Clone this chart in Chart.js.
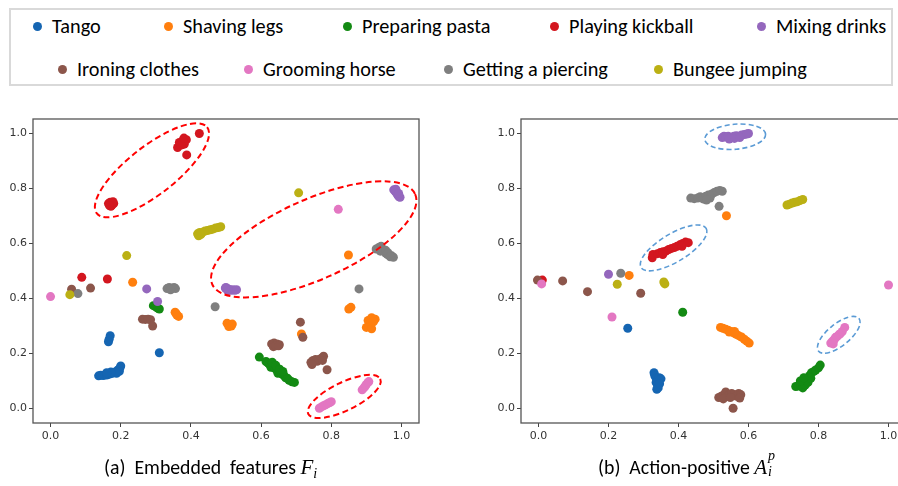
<!DOCTYPE html>
<html>
<head>
<meta charset="utf-8">
<script src="https://cdn.jsdelivr.net/npm/chart.js@4.4.1/dist/chart.umd.min.js"></script>
<style>
  html, body { margin: 0; padding: 0; background: #fff; }
  #page { position: relative; width: 898px; height: 486px; overflow: hidden; background: #fff; }
  #legend { position: absolute; left: 9px; top: 8px; width: 884px; height: 78px; border: 2px solid #d9d9d9; box-sizing: border-box; }
  .lab { position: absolute; font-family: Carlito, Lato, "Liberation Sans", sans-serif; font-size: 20.3px; color: #000; white-space: nowrap; line-height: 20px; }
  .dot { position: absolute; width: 9px; height: 9px; border-radius: 50%; }
  canvas { position: absolute; }
  .cap { position: absolute; top: 454px; font-family: Carlito, Lato, "Liberation Sans", sans-serif; font-size: 19.8px; color: #000; white-space: nowrap; line-height: 26px; }
  .m { font-family: "Liberation Serif", "DejaVu Serif", serif; font-style: italic; font-size: 21px; }
  .m sub { font-size: 14px; vertical-align: -4px; }
  .stk { display: inline-block; position: relative; width: 10px; height: 20px; vertical-align: -3px; }
  .stk span { position: absolute; left: 1px; font-family: "Liberation Serif", "DejaVu Serif", serif; font-style: italic; font-size: 14px; line-height: 14px; }
</style>
</head>
<body>
<div id="page">
  <div id="legend"></div>
  <canvas id="left" width="445" height="370" style="left:0px;top:100px;width:445px;height:370px"></canvas>
  <canvas id="right" width="470" height="370" style="left:450px;top:100px;width:470px;height:370px"></canvas>
  <div class="cap" style="left:104px">(a)&nbsp; Embedded&nbsp; features <span class="m">F<sub>i</sub></span></div>
  <div class="cap" style="left:598px">(b)&nbsp; Action-positive <span class="m">A</span><span class="stk"><span style="top:-8px">p</span><span style="top:8px">i</span></span></div>
</div>
<script>
// Action classes and their marker colours
const categories = ['Tango', 'Shaving legs', 'Preparing pasta', 'Playing kickball', 'Mixing drinks',
                    'Ironing clothes', 'Grooming horse', 'Getting a piercing', 'Bungee jumping'];
const palette = ['#1565b2', '#ff7f0e', '#138a13', '#d3161f', '#9467bd', '#8c564b', '#e377c2', '#7f7f7f', '#bbb014'];
const tickValues = [0.0, 0.2, 0.4, 0.6, 0.8, 1.0];

// ---- (a) embedded features ----
const embTango = [[0.137,0.119],[0.143,0.121],[0.15,0.12],[0.155,0.123],[0.16,0.122],[0.165,0.125],[0.17,0.126],
  [0.175,0.128],[0.18,0.13],[0.185,0.133],[0.19,0.138],[0.195,0.142],[0.198,0.148],[0.2,0.155],[0.196,0.135],
  [0.188,0.128],[0.172,0.133],[0.16,0.13],[0.17,0.265],[0.167,0.252],[0.165,0.243],[0.31,0.203]];
const embShaving = [[0.234,0.459],[0.849,0.558],[0.355,0.35],[0.36,0.34],[0.365,0.335],[0.358,0.345],
  [0.503,0.31],[0.51,0.305],[0.515,0.3],[0.508,0.298],[0.518,0.307],[0.85,0.362],[0.856,0.368],
  [0.905,0.32],[0.915,0.33],[0.925,0.325],[0.91,0.31],[0.9,0.295],[0.915,0.29],[0.92,0.315],[0.715,0.271]];
const embPasta = [[0.293,0.374],[0.3,0.37],[0.305,0.365],[0.31,0.362],[0.595,0.187],
  [0.614,0.171],[0.62,0.165],[0.625,0.16],[0.63,0.158],[0.628,0.15],[0.635,0.15],[0.64,0.145],[0.645,0.14],
  [0.65,0.135],[0.648,0.128],[0.655,0.13],[0.66,0.125],[0.665,0.12],[0.67,0.112],[0.675,0.11],[0.68,0.103],
  [0.688,0.097],[0.695,0.095],[0.632,0.168],[0.642,0.157],[0.653,0.143],[0.662,0.135]];
const embKickball = [[0.165,0.745],[0.17,0.75],[0.175,0.74],[0.18,0.745],[0.172,0.735],[0.178,0.752],[0.168,0.738],
  [0.362,0.949],[0.367,0.967],[0.376,0.973],[0.381,0.961],[0.387,0.977],[0.372,0.958],[0.38,0.983],
  [0.388,0.922],[0.424,1.0],[0.089,0.477],[0.162,0.471]];
const embDrinks = [[0.978,0.795],[0.982,0.79],[0.985,0.785],[0.988,0.78],[0.99,0.775],[0.993,0.77],[0.996,0.768],
  [0.984,0.797],[0.992,0.782],[0.5,0.44],[0.505,0.435],[0.51,0.433],[0.515,0.43],[0.52,0.432],[0.525,0.43],
  [0.53,0.432],[0.505,0.428],[0.498,0.438],[0.274,0.435],[0.305,0.389]];
const embIroning = [[0.06,0.434],[0.114,0.438],[0.262,0.325],[0.27,0.324],[0.278,0.325],[0.285,0.323],[0.291,0.3],
  [0.63,0.235],[0.637,0.238],[0.645,0.235],[0.652,0.232],[0.635,0.225],[0.642,0.228],[0.65,0.228],
  [0.712,0.314],[0.719,0.259],[0.742,0.168],[0.748,0.175],[0.755,0.178],[0.76,0.172],[0.765,0.178],
  [0.772,0.183],[0.778,0.19],[0.775,0.175],[0.745,0.16],[0.788,0.141]];
const embGrooming = [[0.0,0.407],[0.82,0.724],[0.766,0.001],[0.772,0.006],[0.778,0.01],[0.784,0.014],[0.79,0.018],
  [0.796,0.022],[0.8,0.025],[0.888,0.068],[0.893,0.075],[0.897,0.082],[0.9,0.088],[0.905,0.095],[0.907,0.098]];
const embPiercing = [[0.078,0.418],[0.469,0.37],[0.879,0.435],[0.332,0.436],[0.338,0.44],[0.345,0.437],
  [0.352,0.44],[0.356,0.436],[0.342,0.432],[0.928,0.58],[0.935,0.585],[0.942,0.59],[0.945,0.578],[0.95,0.572],
  [0.955,0.565],[0.96,0.56],[0.965,0.558],[0.972,0.555],[0.977,0.55],[0.94,0.572],[0.955,0.575],[0.962,0.566],[0.968,0.552]];
const embBungee = [[0.055,0.414],[0.217,0.556],[0.707,0.784],[0.419,0.635],[0.425,0.64],[0.43,0.638],[0.435,0.642],
  [0.44,0.645],[0.447,0.647],[0.455,0.65],[0.462,0.652],[0.47,0.656],[0.478,0.658],[0.485,0.661],[0.422,0.628],[0.428,0.632]];

// ---- (b) action-positive ----
const posTango = [[0.33,0.13],[0.332,0.12],[0.336,0.11],[0.34,0.1],[0.345,0.112],[0.35,0.108],[0.336,0.095],
  [0.34,0.085],[0.342,0.075],[0.338,0.07],[0.346,0.09],[0.255,0.292]];
const posShaving = [[0.52,0.295],[0.527,0.292],[0.535,0.288],[0.542,0.285],[0.55,0.28],[0.557,0.275],[0.565,0.27],
  [0.572,0.265],[0.58,0.26],[0.588,0.252],[0.595,0.245],[0.602,0.238],[0.545,0.278],[0.56,0.28],
  [0.259,0.484],[0.537,0.701]];
const posPasta = [[0.412,0.35],[0.735,0.08],[0.742,0.082],[0.75,0.085],[0.755,0.095],[0.76,0.1],[0.765,0.108],
  [0.77,0.112],[0.775,0.12],[0.78,0.13],[0.787,0.135],[0.792,0.14],[0.8,0.148],[0.805,0.158],[0.755,0.075],
  [0.762,0.085],[0.77,0.095],[0.778,0.11],[0.748,0.1],[0.758,0.112]];
const posKickball = [[0.011,0.467],[0.325,0.548],[0.327,0.56],[0.34,0.563],[0.348,0.567],[0.356,0.57],[0.364,0.572],
  [0.372,0.578],[0.38,0.582],[0.388,0.585],[0.396,0.59],[0.404,0.595],[0.412,0.6],[0.42,0.605],[0.428,0.603],
  [0.41,0.59],[0.355,0.56]];
const posDrinks = [[0.2,0.488],[0.525,0.985],[0.53,0.99],[0.535,0.987],[0.542,0.99],[0.55,0.985],[0.558,0.99],
  [0.565,0.992],[0.572,0.99],[0.58,0.994],[0.588,0.996],[0.595,0.998],[0.6,1.0],[0.545,0.98],[0.56,0.982],[0.575,0.985]];
const posIroning = [[-0.003,0.467],[0.069,0.464],[0.14,0.425],[0.292,0.419],[0.515,0.04],[0.522,0.045],[0.53,0.05],
  [0.535,0.06],[0.54,0.045],[0.545,0.05],[0.552,0.055],[0.56,0.05],[0.565,0.045],[0.572,0.055],[0.578,0.05],
  [0.575,0.038],[0.528,0.035],[0.548,0.04],[0.556,0.001]];
const posGrooming = [[0.009,0.453],[0.21,0.333],[1.0,0.449],[0.835,0.238],[0.84,0.245],[0.845,0.25],[0.848,0.258],
  [0.853,0.262],[0.858,0.268],[0.862,0.272],[0.868,0.28],[0.875,0.295],[0.842,0.235]];
const posPiercing = [[0.235,0.492],[0.516,0.735],[0.435,0.765],[0.445,0.763],[0.455,0.765],[0.462,0.77],[0.47,0.762],
  [0.478,0.772],[0.485,0.776],[0.49,0.765],[0.495,0.78],[0.502,0.785],[0.51,0.79],[0.518,0.793],[0.525,0.79],[0.48,0.758]];
const posBungee = [[0.225,0.452],[0.361,0.453],[0.358,0.46],[0.71,0.74],[0.717,0.743],[0.725,0.747],[0.732,0.75],
  [0.74,0.752],[0.747,0.756],[0.755,0.76]];

const embeddedSeries = [embTango, embShaving, embPasta, embKickball, embDrinks, embIroning, embGrooming, embPiercing, embBungee];
const positiveSeries = [posTango, posShaving, posPasta, posKickball, posDrinks, posIroning, posGrooming, posPiercing, posBungee];

// Dashed highlight rings: centre in data units, semi-axes in px, tilt in degrees
const embeddedRings = [
  { cx: 0.289, cy: 0.866, a: 70, b: 24, tilt: -38, color: '#ff0000' },
  { cx: 0.75,  cy: 0.615, a: 111, b: 40, tilt: -24, color: '#ff0000' },
  { cx: 0.837, cy: 0.044, a: 40, b: 14, tilt: -26, color: '#ff0000' }
];
const positiveRings = [
  { cx: 0.562, cy: 0.988, a: 30.5, b: 12.5, tilt: -5, color: '#5b9bd5' },
  { cx: 0.386, cy: 0.584, a: 38, b: 14, tilt: -31, color: '#5b9bd5' },
  { cx: 0.858, cy: 0.268, a: 26, b: 11, tilt: -39, color: '#5b9bd5' }
];

// Legend slots (marker centre x, row centre y) inside the page
const legendSlots = [[37,26],[168,26],[347,26],[554,26],[761,26],[62,69],[248,69],[448,69],[658,69]];

const page = document.getElementById('page');
categories.forEach((name, i) => {
  const [mx, my] = legendSlots[i];
  const d = document.createElement('div');
  d.className = 'dot';
  d.style.background = palette[i];
  d.style.left = (mx - 4.5) + 'px';
  d.style.top = (my - 4.5) + 'px';
  page.appendChild(d);
  const t = document.createElement('div');
  t.className = 'lab';
  t.textContent = name;
  t.style.left = (mx + 15) + 'px';
  t.style.top = (my - 10) + 'px';
  page.appendChild(t);
});

const frameAndRings = {
  id: 'frameAndRings',
  afterDatasetsDraw(chart, args, opts) {
    const { ctx, chartArea, scales } = chart;
    ctx.save();
    (opts.rings || []).forEach(r => {
      const px = scales.x.getPixelForValue(r.cx);
      const py = scales.y.getPixelForValue(r.cy);
      ctx.save();
      ctx.translate(px, py);
      ctx.rotate(r.tilt * Math.PI / 180);
      ctx.beginPath();
      ctx.ellipse(0, 0, r.a, r.b, 0, 0, Math.PI * 2);
      ctx.strokeStyle = r.color;
      ctx.lineWidth = r.color === '#ff0000' ? 2 : 1.6;
      ctx.setLineDash(r.color === '#ff0000' ? [6, 3.5] : [5, 3]);
      ctx.stroke();
      ctx.restore();
    });
    ctx.setLineDash([]);
    ctx.strokeStyle = '#555';
    ctx.lineWidth = 1.3;
    ctx.strokeRect(chartArea.left, chartArea.top, chartArea.right - chartArea.left, chartArea.bottom - chartArea.top);
    ctx.restore();
  }
};

function axisOptions(isX, fit) {
  return {
    type: 'linear',
    min: isX ? -0.05 : -0.0525,
    max: isX ? 1.05 : 1.0525,
    afterBuildTicks: s => { s.ticks = tickValues.map(v => ({ value: v })); },
    afterFit: s => { if (isX) s.height = fit; else s.width = fit; },
    grid: { display: true, drawOnChartArea: false, drawTicks: true, tickLength: 4, color: '#444', lineWidth: 1 },
    border: { display: false },
    ticks: {
      color: '#333', padding: isX ? 3 : 2, autoSkip: false, maxRotation: 0,
      font: { family: 'DejaVu Sans', size: 11 },
      callback: v => Number(v).toFixed(1)
    }
  };
}

function panel(id, seriesList, rings, yWidth, rightPad) {
  new Chart(document.getElementById(id), {
    type: 'scatter',
    data: {
      datasets: seriesList.map((pts, i) => ({
        label: categories[i],
        data: pts.map(([x, y]) => ({ x, y })),
        backgroundColor: palette[i],
        borderWidth: 0,
        pointRadius: 4.5,
        pointHoverRadius: 4.5,
        order: seriesList.length - i
      }))
    },
    options: {
      responsive: false,
      animation: false,
      events: [],
      layout: { padding: { left: 0, top: 19, right: rightPad, bottom: 0 } },
      plugins: { legend: { display: false }, tooltip: { enabled: false }, frameAndRings: { rings } },
      scales: { x: axisOptions(true, 47), y: axisOptions(false, yWidth) }
    },
    plugins: [frameAndRings]
  });
}

panel('left', embeddedSeries, embeddedRings, 33, 26);
panel('right', positiveSeries, positiveRings, 71, 14);
</script>
</body>
</html>
